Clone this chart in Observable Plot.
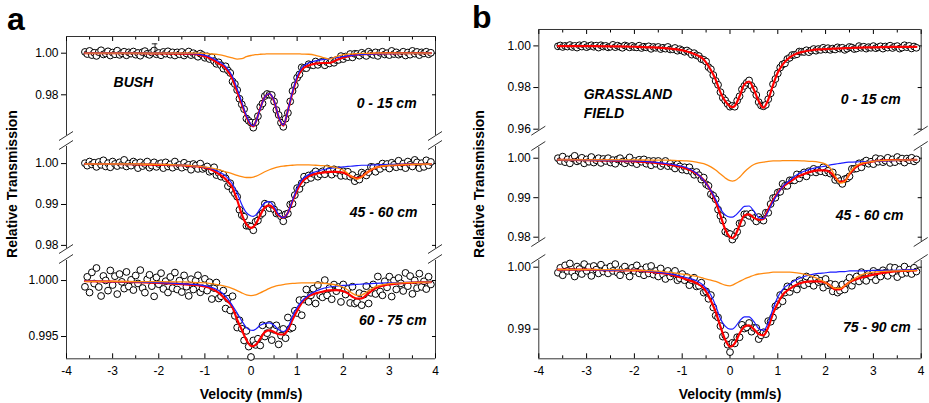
<!DOCTYPE html>
<html><head><meta charset="utf-8">
<script src="https://cdn.jsdelivr.net/npm/d3@7"></script>
<script src="https://cdn.jsdelivr.net/npm/@observablehq/plot@0.6"></script>
<style>
body{margin:0;background:#fff;}
#chart{position:relative;width:929px;height:403px;overflow:hidden;background:#fff;font-family:"Liberation Sans",Arial,sans-serif;}
#chart svg{position:absolute;overflow:visible;}
</style></head><body><div id="chart"></div>
<script>
// ---------- data ----------
const velocity = [-3.6,-3.55,-3.5,-3.45,-3.4,-3.35,-3.3,-3.25,-3.2,-3.15,
-3.1,-3.05,-3,-2.95,-2.9,-2.85,-2.8,-2.75,-2.7,-2.65,
-2.6,-2.55,-2.5,-2.45,-2.4,-2.35,-2.3,-2.25,-2.2,-2.15,
-2.1,-2.05,-2,-1.95,-1.9,-1.85,-1.8,-1.75,-1.7,-1.65,
-1.6,-1.55,-1.5,-1.45,-1.4,-1.35,-1.3,-1.25,-1.2,-1.15,
-1.1,-1.05,-1,-0.95,-0.9,-0.85,-0.8,-0.75,-0.7,-0.65,
-0.6,-0.55,-0.5,-0.45,-0.4,-0.35,-0.3,-0.25,-0.2,-0.15,
-0.1,-0.05,0,0.05,0.1,0.15,0.2,0.25,0.3,0.35,
0.4,0.45,0.5,0.55,0.6,0.65,0.7,0.75,0.8,0.85,
0.9,0.95,1,1.05,1.1,1.15,1.2,1.25,1.3,1.35,
1.4,1.45,1.5,1.55,1.6,1.65,1.7,1.75,1.8,1.85,
1.9,1.95,2,2.05,2.1,2.15,2.2,2.25,2.3,2.35,
2.4,2.45,2.5,2.55,2.6,2.65,2.7,2.75,2.8,2.85,
2.9,2.95,3,3.05,3.1,3.15,3.2,3.25,3.3,3.35,
3.4,3.45,3.5,3.55,3.6,3.65,3.7,3.75,3.8,3.85,3.9];

const fitVelocity = [-3.6,-3.0,-2.5,-2.0,-1.6,-1.3,-1.1,-0.9,-0.7,-0.55,-0.4,-0.3,-0.2,-0.1,0,0.05,0.1,0.2,0.3,0.4,0.5,0.6,0.7,0.8,0.9,1.0,1.1,1.25,1.4,1.55,1.7,1.85,2.0,2.1,2.2,2.3,2.4,2.5,2.7,3.0,3.4,3.9];

// Bush 0-15 cm
const bush0015Obs = [1.0006,.9996,1.0011,.9991,1.0002,.9987,1.0005,1.0014,.9994,.9999,
1.0009,.9989,1.0003,.9995,1.0012,.9992,1.0000,1.0007,.9990,1.0004,
.9998,1.0008,.9993,1.0001,.9988,1.0005,1.0010,.9997,.9992,1.0003,
1.0013,.9995,1.0001,.9990,1.0006,.9998,1.0009,.9993,1.0004,.9989,
1.0004,.9995,1.0006,.9989,.9999,1.0008,.9991,1.0000,.9991,.9983,
.9998,.9991,.9978,.9985,.9972,.9980,.9962,.9949,.9956,.9942,
.9926,.9937,.9917,.9905,.9864,.9852,.9823,.9781,.9754,.9731,
.9686,.9675,.9666,.9642,.9668,.9697,.9742,.9758,.9794,.9804,
.9800,.9799,.9768,.9727,.9703,.9666,.9646,.9685,.9713,.9768,
.9818,.9846,.9882,.9898,.9932,.9929,.9928,.9947,.9944,.9942,
.9960,.9944,.9956,.9959,.9942,.9957,.9951,.9964,.9954,.9967,
.9968,.9986,.9972,.9984,.9981,.9996,.9980,.9997,.9996,.9988,
1.0002,.9994,.9987,1.0007,.9998,.9992,1.0004,.9987,1.0002,1.0007,
.9994,1.0000,.9991,1.0011,.9996,1.0004,.9993,.9999,1.0007,.9989,
1.0003,.9993,1.0011,.9998,1.0006,.9991,1.0004,.9999,1.0007,.9995,1.0002];
const bush0015Total = [1.0000,1.0000,1.0000,.9999,.9998,.9997,.9991,.9977,.9950,.9928,.9875,.9815,.9755,.9695,.9655,.9648,.9668,.9735,.9790,.9805,.9770,.9693,.9652,.9725,.9810,.9880,.9920,.9941,.9950,.9953,.9953,.9966,.9979,.9985,.9990,.9993,.9995,.9996,.9998,.9999,1.0000,1.0000];
const bush0015Doublet = [1.0000,1.0000,1.0000,1.0000,.9999,.9998,.9994,.9983,.9960,.9937,.9888,.9830,.9765,.9700,.9658,.9651,.9668,.9733,.9790,.9806,.9772,.9695,.9655,.9725,.9815,.9888,.9930,.9953,.9963,.9969,.9974,.9979,.9984,.9987,.9990,.9992,.9994,.9995,.9997,.9998,.9999,1.0000];
const bush0015Fe2 = [1,1,1,1,1,1,1,.9997,.9993,.9986,.9977,.9972,.9974,.9983,.9989,.9991,.9993,.9995,.9996,.9997,.9997,.9997,.9997,.9997,.9997,.9997,.9996,.9995,.9990,.9980,.9972,.9984,.9993,.9996,.9997,.9998,.9999,.9999,1,1,1,1];

// Bush 45-60 cm
const bush4560Obs = [1.0001,
.9995,1.0005,.9998,1.0002,.9992,1.0004,.9997,1.0008,.9993,1.0001,
.9991,1.0005,.9999,.9994,1.0003,.9997,1.0009,.9993,1.0000,.9995,
1.0005,1.0001,.9989,1.0003,.9994,.9999,1.0005,.9990,.9995,1.0003,
.9992,.9999,1.0001,.9989,1.0003,.9993,.9998,.9990,1.0005,.9994,
.9997,.9990,1.0002,.9993,.9997,.9985,.9999,.9995,.9987,1.0000,
.9987,.9990,.9993,.9980,.9983,.9991,.9972,.9977,.9968,.9973,
.9964,.9945,.9952,.9935,.9927,.9919,.9887,.9874,.9870,.9848,
.9848,.9846,.9837,.9858,.9861,.9874,.9879,.9902,.9899,.9891,
.9899,.9888,.9878,.9879,.9871,.9859,.9876,.9878,.9900,.9902,
.9923,.9940,.9938,.9952,.9968,.9961,.9971,.9965,.9975,.9981,
.9968,.9974,.9981,.9974,.9988,.9982,.9973,.9986,.9978,.9984,
.9970,.9981,.9970,.9980,.9968,.9972,.9957,.9965,.9961,.9978,
.9974,.9971,.9979,.9992,.9991,.9980,.9992,.9987,1.0000,.9993,
.9999,.9988,1.0002,.9997,.9991,1.0007,.9993,1.0000,.9989,1.0005,
.9997,.9993,1.0009,1.0003,.9989,1.0001,.9992,1.0008,.9996,1.0004];
const bush4560Total = [.9999,.9999,.9998,.9997,.9996,.9994,.9992,.9987,.9975,.9962,.9940,.9911,.9876,.9852,.9843,.9845,.9852,.9874,.9893,.9898,.9889,.9873,.9868,.9880,.9908,.9935,.9954,.9969,.9975,.9978,.9980,.9980,.9978,.9973,.9967,.9964,.9968,.9977,.9990,.9996,.9998,.9999];
const bush4560Doublet = [.9999,.9999,.9998,.9998,.9997,.9995,.9993,.9989,.9980,.9970,.9950,.9928,.9900,.9880,.9872,.9871,.9874,.9890,.9904,.9907,.9895,.9876,.9868,.9880,.9910,.9940,.9960,.9973,.9980,.9985,.9988,.9990,.9992,.9993,.9994,.9995,.9996,.9996,.9997,.9998,.9999,.9999];
const bush4560Fe2 = [.9999,.9999,.9999,.9998,.9997,.9995,.9993,.9990,.9985,.9980,.9975,.9971,.9968,.9966,.9966,.9967,.9969,.9974,.9980,.9985,.9989,.9992,.9994,.9995,.9996,.9997,.9997,.9997,.9996,.9995,.9993,.9990,.9984,.9976,.9967,.9962,.9967,.9977,.9990,.9996,.9998,.9999];

// Bush 60-75 cm
const bush6075Obs = [.99944,1.00033,.99893,1.00073,.99973,1.00112,.99942,.99862,1.00041,1.00001,
.99910,1.00090,.99960,1.00039,.99879,1.00058,.99988,.99928,1.00077,.99947,
1.00006,.99915,1.00045,.99974,1.00093,.99933,.99892,1.00011,1.00051,.99950,
.99859,1.00028,.99967,1.00066,.99925,.99994,.99893,1.00032,.99932,1.00071,
.99920,.99999,.99897,1.00046,.99945,.99863,1.00012,.99920,.99998,1.00047,
.99895,.99930,1.00015,.99910,.99985,.99835,.99933,.99982,.99840,.99860,
.99910,.99750,.99837,.99733,.99860,.99685,.99580,.99645,.99570,.99465,
.99550,.99410,.99317,.99465,.99425,.99480,.99420,.99600,.99500,.99530,
.99604,.99468,.99560,.99600,.99430,.99508,.99568,.99485,.99670,.99570,
.99580,.99730,.99710,.99825,.99690,.99830,.99920,.99810,.99868,.99927,
.99795,.99960,.99865,.99850,1.00004,.99868,.99932,.99833,.99964,.99905,
.99942,.99809,.99965,.99875,.99925,.99800,.99945,.99795,.99808,.99888,
.99780,.99875,.99950,.99795,.99890,.99965,.99880,1.00036,.99902,.99868,
.99993,.99939,1.00035,.99857,1.00000,.99921,1.00023,.99975,.99907,1.00068,
.99950,1.00040,.99881,1.00001,.99932,1.00062,.99943,.99993,.99924,1.00034,.99965];
const bush6075Total = [.99994,.99990,.99985,.99978,.99970,.99962,.99955,.99935,.99890,.99830,.99760,.99650,.99560,.99470,.99417,.99415,.99425,.99480,.99540,.99554,.99540,.99520,.99518,.99560,.99650,.99730,.99800,.99860,.99885,.99900,.99912,.99915,.99905,.99885,.99855,.99838,.99840,.99870,.99930,.99965,.99980,.99985];
const bush6075Doublet = [.99994,.99991,.99987,.99981,.99974,.99967,.99960,.99945,.99910,.99860,.99775,.99710,.99640,.99580,.99556,.99555,.99565,.99600,.99618,.99622,.99600,.99560,.99545,.99580,.99680,.99760,.99815,.99870,.99905,.99928,.99942,.99950,.99956,.99960,.99963,.99966,.99968,.99971,.99975,.99979,.99983,.99985];
const bush6075Fe2 = [.99993,.99992,.99991,.99990,.99988,.99985,.99982,.99975,.99962,.99948,.99928,.99910,.99890,.99873,.99866,.99867,.99872,.99890,.99910,.99930,.99945,.99956,.99964,.99970,.99974,.99977,.99979,.99980,.99979,.99976,.99970,.99960,.99940,.99915,.99885,.99867,.99870,.99895,.99945,.99972,.99982,.99986];

// Grassland field 0-15 cm
const grass0015Obs = [.9998,1.0002,.9995,1.0000,.9997,1.0004,.9995,1.0000,.9992,1.0003,
.9997,1.0005,.9994,.9999,1.0003,.9996,1.0001,.9992,1.0003,.9997,
1.0000,.9993,.9996,1.0005,.9994,1.0001,.9996,.9991,1.0002,.9998,
.9993,1.0000,.9994,.9993,1.0001,.9990,.9996,.9993,.9998,.9986,
.9995,.9991,.9995,.9985,.9991,.9987,.9995,.9983,.9984,.9990,
.9977,.9984,.9978,.9972,.9978,.9970,.9958,.9965,.9955,.9951,
.9937,.9933,.9925,.9898,.9888,.9860,.9832,.9813,.9778,.9751,
.9738,.9721,.9708,.9712,.9708,.9737,.9758,.9791,.9808,.9823,
.9834,.9808,.9791,.9764,.9730,.9714,.9710,.9717,.9744,.9772,
.9816,.9841,.9868,.9896,.9911,.9916,.9937,.9943,.9956,.9957,
.9960,.9973,.9972,.9971,.9979,.9970,.9978,.9985,.9977,.9985,
.9981,.9991,.9983,.9989,.9981,.9987,.9983,.9993,.9987,.9991,
.9981,.9987,.9995,.9992,.9985,.9988,.9999,.9991,.9996,.9987,
.9994,.9991,.9999,.9989,.9993,.9998,.9987,.9997,.9992,1.0001,
.9990,.9996,.9999,.9987,.9992,1.0003,.9994,1.0000,.9988,.9997,.9991];
const grass0015Total = [.9999,.9999,.9998,.9996,.9993,.9988,.9983,.9973,.9956,.9935,.9884,.9838,.9777,.9735,.9710,.9706,.9712,.9758,.9815,.9829,.9790,.9735,.9703,.9742,.9812,.9872,.9910,.9945,.9964,.9973,.9979,.9983,.9985,.9986,.9987,.9988,.9989,.9990,.9992,.9993,.9995,.9995];

// Grassland field 45-60 cm
const grass4560Obs = [1.0000,.9993,1.0004,.9990,.9997,.9987,1.0000,1.0006,.9992,.9995,
1.0001,.9987,.9997,.9991,1.0003,.9989,.9995,1.0000,.9988,.9998,
.9993,1.0000,.9989,.9995,.9986,.9997,1.0000,.9991,.9987,.9995,
1.0002,.9989,.9993,.9985,.9996,.9991,.9997,.9986,.9993,.9982,
.9993,.9986,.9993,.9980,.9986,.9993,.9980,.9986,.9979,.9974,
.9985,.9979,.9971,.9977,.9969,.9977,.9966,.9958,.9965,.9957,
.9946,.9951,.9934,.9930,.9909,.9905,.9896,.9870,.9854,.9842,
.9814,.9810,.9808,.9794,.9803,.9814,.9835,.9836,.9858,.9858,
.9854,.9860,.9848,.9840,.9851,.9845,.9842,.9862,.9862,.9884,
.9899,.9900,.9913,.9915,.9935,.9930,.9930,.9944,.9944,.9944,
.9959,.9949,.9959,.9964,.9954,.9967,.9965,.9973,.9964,.9970,
.9967,.9977,.9964,.9968,.9961,.9964,.9945,.9950,.9942,.9935,
.9947,.9949,.9954,.9973,.9973,.9974,.9987,.9977,.9990,.9994,
.9986,.9991,.9985,1.0000,.9991,.9998,.9990,.9994,1.0001,.9988,
.9997,.9990,1.0003,.9994,.9999,.9989,.9999,.9995,1.0001,.9992,.9997];
const grass4560Total = [.9996,.9995,.9994,.9992,.9989,.9984,.9980,.9973,.9961,.9945,.9917,.9890,.9855,.9820,.9800,.9798,.9803,.9830,.9855,.9858,.9849,.9844,.9846,.9870,.9893,.9912,.9927,.9940,.9952,.9960,.9966,.9969,.9969,.9964,.9952,.9940,.9942,.9960,.9983,.9992,.9995,.9996];
const grass4560Doublet = [.9996,.9995,.9994,.9993,.9990,.9986,.9982,.9976,.9962,.9944,.9918,.9896,.9872,.9856,.9851,.9851,.9854,.9866,.9878,.9879,.9866,.9850,.9847,.9865,.9890,.9910,.9928,.9944,.9958,.9967,.9973,.9977,.9980,.9983,.9985,.9987,.9989,.9990,.9991,.9992,.9994,.9996];
const grass4560Fe2 = [.9996,.9996,.9996,.9996,.9995,.9995,.9994,.9993,.9990,.9986,.9978,.9970,.9960,.9950,.9943,.9942,.9943,.9952,.9965,.9976,.9984,.9988,.9990,.9992,.9993,.9993,.9994,.9994,.9994,.9993,.9992,.9990,.9985,.9975,.9955,.9937,.9940,.9962,.9985,.9992,.9995,.9996];

// Grassland field 75-90 cm
const grass7590Obs = [.9991,.9999,.9987,1.0003,.9994,1.0006,.9992,.9985,1.0001,.9997,
.9989,1.0005,.9994,1.0000,.9986,1.0002,.9996,.9990,1.0004,.9993,
.9998,.9990,1.0001,.9994,1.0005,.9991,.9987,.9997,1.0001,.9993,
.9985,.9999,.9994,1.0003,.9990,.9996,.9987,1.0000,.9990,1.0002,
.9988,.9994,.9985,.9998,.9988,.9981,.9994,.9985,.9990,.9994,
.9979,.9982,.9989,.9979,.9984,.9971,.9979,.9983,.9969,.9970,
.9975,.9959,.9961,.9949,.9955,.9935,.9922,.9919,.9905,.9888,
.9890,.9875,.9863,.9878,.9877,.9887,.9887,.9907,.9901,.9903,
.9910,.9896,.9902,.9902,.9884,.9890,.9895,.9892,.9913,.9912,
.9919,.9937,.9940,.9955,.9945,.9959,.9969,.9960,.9967,.9974,
.9964,.9979,.9973,.9971,.9985,.9974,.9979,.9970,.9982,.9976,
.9978,.9967,.9981,.9971,.9973,.9961,.9972,.9959,.9962,.9972,
.9964,.9975,.9983,.9970,.9978,.9985,.9977,.9992,.9981,.9978,
.9989,.9985,.9994,.9979,.9991,.9985,.9995,.9991,.9986,1.0000,
.9991,.9999,.9984,.9996,.9989,1.0001,.9991,.9996,.9989,.9999,.9993];
const grass7590Total = [.9996,.9996,.9995,.9995,.9992,.9989,.9985,.9980,.9974,.9966,.9946,.9928,.9904,.9883,.9872,.9873,.9877,.9893,.9904,.9906,.9900,.9892,.9890,.9903,.9925,.9942,.9955,.9965,.9972,.9976,.9977,.9977,.9975,.9970,.9964,.9964,.9970,.9976,.9982,.9988,.9993,.9995];
const grass7590Doublet = [.9996,.9996,.9995,.9995,.9993,.9990,.9987,.9983,.9978,.9970,.9955,.9938,.9917,.9905,.9900,.9900,.9903,.9913,.9920,.9920,.9912,.9901,.9898,.9910,.9933,.9952,.9964,.9973,.9980,.9985,.9988,.9990,.9991,.9992,.9992,.9993,.9993,.9994,.9994,.9995,.9995,.9996];
const grass7590Fe2 = [.9996,.9996,.9996,.9995,.9994,.9992,.9990,.9988,.9985,.9982,.9979,.9977,.9974,.9971,.9970,.9971,.9973,.9977,.9981,.9984,.9987,.9989,.9990,.9991,.9992,.9992,.9992,.9992,.9991,.9989,.9986,.9981,.9975,.9970,.9966,.9966,.9970,.9976,.9986,.9992,.9994,.9995];

// error bar on the first spectrum
const errorBar = {v: -2.08, lo: 0.9989, hi: 1.0045};

// tick values and labels
const xMajorTicks = [-4,-3,-2,-1,0,1,2,3,4];
const xMinorTicks = [-3.5,-2.5,-1.5,-0.5,0.5,1.5,2.5,3.5];
const panelLetters = ["a", "b"];
const siteLabels = ["BUSH", "GRASSLAND\nFIELD"];
const depthLabelsA = ["0 - 15 cm", "45 - 60 cm", "60 - 75 cm"];
const depthLabelsB = ["0 - 15 cm", "45 - 60 cm", "75 - 90 cm"];
const yTitle = "Relative Transmission";
const xTitle = "Velocity (mm/s)";

// ---------- layout ----------
const RED = "#ff0000", BLUE = "#1c1cff", ORANGE = "#ff8a10", FRAME = "#333";
const FONT = "'Liberation Sans', Arial, Helvetica, sans-serif";

const panels = [
  {svgLeft: 0, svgWidth: 460, ml: 66, mr: 25, letterX: 7, letterY: 30, titleX: 17, site: siteLabels[0], siteAt: [-2.98, 0.98688],
   rows: [
     {top: 36, bottom: 135, domain: [0.96043, 1.00803], ticks: [0.98, 1.00], fmt: ".2f", obs: bush0015Obs, total: bush0015Total, doublet: bush0015Doublet, fe2: bush0015Fe2, depth: depthLabelsA[0], depthAt: [3.59, 0.9758], errorBar},
     {top: 146, bottom: 248, domain: [0.97924, 1.00418], ticks: [0.98, 0.99, 1.00], fmt: ".2f", obs: bush4560Obs, total: bush4560Total, doublet: bush4560Doublet, fe2: bush4560Fe2, depth: depthLabelsA[1], depthAt: [3.61, 0.9881]},
     {top: 260, bottom: 358.3, domain: [0.99301, 1.00179], ticks: [0.995, 1.000], fmt: ".3f", obs: bush6075Obs, total: bush6075Total, doublet: bush6075Doublet, fe2: bush6075Fe2, depth: depthLabelsA[2], depthAt: [3.81, 0.99643]}
   ]},
  {svgLeft: 470, svgWidth: 459, ml: 68.3, mr: 8.3, letterX: 472, letterY: 28, titleX: 484, site: siteLabels[1], siteAt: [-3.06, 0.97273],
   rows: [
     {top: 29.3, bottom: 130, domain: [0.95952, 1.00788], ticks: [0.96, 0.98, 1.00], fmt: ".2f", obs: grass0015Obs, total: grass0015Total, depth: depthLabelsB[0], depthAt: [3.57, 0.97441]},
     {top: 147, bottom: 241, domain: [0.97891, 1.00271], ticks: [0.98, 0.99, 1.00], fmt: ".2f", obs: grass4560Obs, total: grass4560Total, doublet: grass4560Doublet, fe2: grass4560Fe2, depth: depthLabelsB[1], depthAt: [3.63, 0.98549]},
     {top: 260, bottom: 358.3, domain: [0.98522, 1.00108], ticks: [0.99, 1.00], fmt: ".2f", obs: grass7590Obs, total: grass7590Total, doublet: grass7590Doublet, fe2: grass7590Fe2, depth: depthLabelsB[2], depthAt: [3.78, 0.99032]}
   ]}
];

const chart = document.getElementById("chart");

function drawRow(panel, row, isTop, isBottom) {
  const mt = 12, mb = isBottom ? 46 : 12;
  const height = row.bottom - row.top + mt + mb;
  const [y0, y1] = row.domain;
  const marks = [];
  marks.push(Plot.ruleX([-4, 4], {stroke: FRAME, strokeWidth: 1}));
  if (isTop) marks.push(Plot.ruleY([y1], {stroke: FRAME, strokeWidth: 1}));
  if (isBottom) marks.push(Plot.ruleY([y0], {stroke: FRAME, strokeWidth: 1}));
  marks.push(Plot.axisY({ticks: row.ticks, anchor: "left", tickSize: 5, tickPadding: 3, tickFormat: d3.format(row.fmt), fontSize: 12, label: null}));
  marks.push(Plot.axisY({ticks: row.ticks, anchor: "right", tickSize: -4, tickFormat: () => "", label: null}));
  if (isTop) {
    marks.push(Plot.axisX({ticks: xMajorTicks, anchor: "top", tickSize: -4, tickFormat: () => "", label: null}));
    marks.push(Plot.axisX({ticks: xMinorTicks, anchor: "top", tickSize: -2.5, tickFormat: () => "", label: null}));
  }
  if (isBottom) {
    marks.push(Plot.axisX({ticks: xMajorTicks, anchor: "bottom", tickSize: -5, tickFormat: () => "", label: null}));
    marks.push(Plot.axisX({ticks: xMinorTicks, anchor: "bottom", tickSize: -3, tickFormat: () => "", label: null}));
    marks.push(Plot.axisX({ticks: xMajorTicks, anchor: "bottom", tickSize: 0, tickPadding: 8, tickFormat: d => String(d), fontSize: 12, label: null}));
    marks.push(Plot.text([xTitle], {text: d => d, frameAnchor: "bottom", dy: 35.5, fontSize: 14, fontWeight: "bold", lineAnchor: "middle"}));
  }
  marks.push(Plot.dot(velocity, {x: velocity, y: row.obs, r: 3.4, fill: "white", stroke: "black", strokeWidth: 1}));
  if (row.errorBar) {
    const e = row.errorBar;
    marks.push(Plot.ruleX([e], {x: "v", y1: "lo", y2: "hi", stroke: "#222", strokeWidth: 1}));
    marks.push(Plot.ruleY([e], {y: "hi", x1: d => d.v - 0.06, x2: d => d.v + 0.06, stroke: "#222", strokeWidth: 1}));
  }
  marks.push(Plot.line(fitVelocity, {x: fitVelocity, y: row.total, stroke: RED, strokeWidth: 2.2, curve: "monotone-x"}));
  if (row.doublet) marks.push(Plot.line(fitVelocity, {x: fitVelocity, y: row.doublet, stroke: BLUE, strokeWidth: 1.2, curve: "monotone-x"}));
  if (row.fe2) marks.push(Plot.line(fitVelocity, {x: fitVelocity, y: row.fe2, stroke: ORANGE, strokeWidth: 1.3, curve: "monotone-x"}));
  marks.push(Plot.text([row.depth], {x: [row.depthAt[0]], y: [row.depthAt[1]], text: d => d, textAnchor: "end", fontSize: 14, fontWeight: "bold", fontStyle: "italic"}));
  if (isTop) {
    marks.push(Plot.text([panel.site], {x: [panel.siteAt[0]], y: [panel.siteAt[1]], text: d => d, textAnchor: "start", fontSize: 14, fontWeight: "bold", fontStyle: "italic", lineHeight: 1.35}));
  }
  const svg = Plot.plot({
    width: panel.svgWidth, height,
    marginLeft: panel.ml, marginRight: panel.mr, marginTop: mt, marginBottom: mb,
    x: {domain: [-4, 4], axis: null, label: null},
    y: {domain: [y0, y1], axis: null, label: null},
    style: {fontFamily: FONT, fontSize: "12px", background: "transparent", overflow: "visible", color: "black"},
    marks
  });
  svg.style.left = panel.svgLeft + "px";
  svg.style.top = (row.top - mt) + "px";
  // axis break marks at the gaps between stacked spectra
  const g = d3.select(svg).append("g").attr("stroke", FRAME).attr("stroke-width", 1);
  const xs = [panel.ml, panel.svgWidth - panel.mr];
  const ends = [];
  if (!isTop) ends.push(mt - 1);
  if (!isBottom) ends.push(height - mb + 1);
  for (const x of xs) for (const y of ends) {
    g.append("line").attr("x1", x - 7).attr("y1", y + 4.5).attr("x2", x + 7).attr("y2", y - 4.5);
  }
  chart.appendChild(svg);
}

panels.forEach(panel => {
  panel.rows.forEach((row, i) => drawRow(panel, row, i === 0, i === panel.rows.length - 1));
});

// panel letters and y titles
const overlay = d3.select(chart).append("svg").attr("width", 929).attr("height", 403)
  .style("left", "0px").style("top", "0px").style("font-family", FONT);
panels.forEach((panel, p) => {
  overlay.append("text").attr("x", panel.letterX).attr("y", panel.letterY)
    .attr("font-size", 32).attr("font-weight", "bold").text(panelLetters[p]);
  overlay.append("text").attr("transform", `translate(${panel.titleX},184) rotate(-90)`)
    .attr("text-anchor", "middle").attr("font-size", 14).attr("font-weight", "bold").text(yTitle);
});
</script></body></html>
